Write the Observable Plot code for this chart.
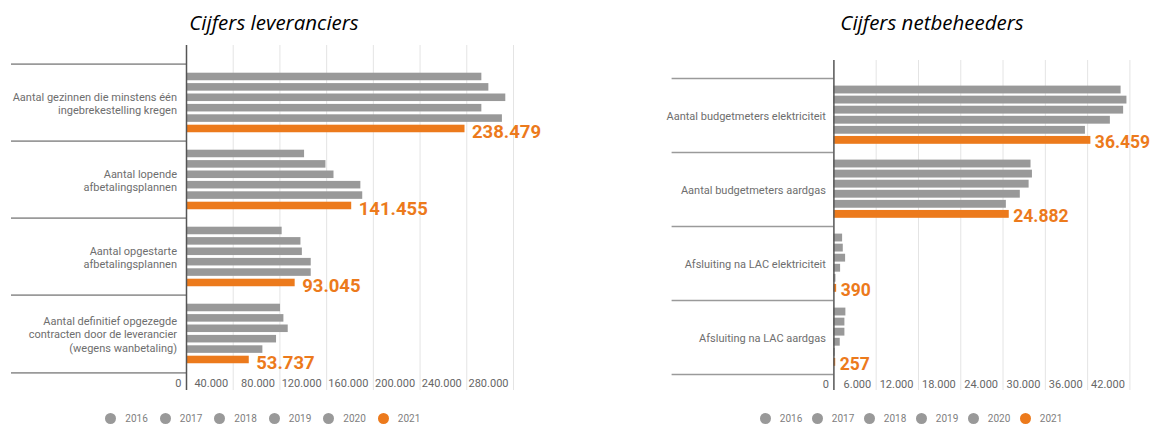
<!DOCTYPE html>
<html><head><meta charset="utf-8">
<script src="https://cdn.jsdelivr.net/npm/d3@7"></script>
<script src="https://cdn.jsdelivr.net/npm/@observablehq/plot@0.6"></script>
<style>
body{margin:0;background:#fff;font-family:Roboto,sans-serif;}
#wrap{position:relative;width:1152px;height:425px;overflow:hidden;background:#fff;}
.panel{position:absolute;top:0;width:576px;height:425px;}
.panel svg{position:absolute;left:0;top:0;overflow:visible;}
.title{position:absolute;top:8px;font-family:"Open Sans",sans-serif;font-style:italic;font-weight:400;font-size:20.5px;line-height:28px;color:#000;white-space:nowrap;transform:translateX(-50%);}
.legend{position:absolute;top:412px;height:12px;display:flex;align-items:center;font-family:Roboto,sans-serif;font-size:10px;color:#808080;}
.legend .item{display:flex;align-items:center;flex-shrink:0;}
.legend .dot{width:11px;height:11px;border-radius:50%;margin-right:9px;flex-shrink:0;}
</style>
</head><body>
<div id="wrap">
  <div class="panel" id="left"></div>
  <div class="panel" id="right" style="left:576px"></div>
</div>
<script>
// ---- shared ----
const years = ["2016", "2017", "2018", "2019", "2020", "2021"];
const yearColors = ["#999999", "#999999", "#999999", "#999999", "#999999", "#ec7a1c"];

// ---- left chart: Cijfers leveranciers ----
const levTitle = "Cijfers leveranciers";
const levCategories = [
  "Aantal gezinnen die minstens één\ningebrekestelling kregen",
  "Aantal lopende\nafbetalingsplannen",
  "Aantal opgestarte\nafbetalingsplannen",
  "Aantal definitief opgezegde\ncontracten door de leverancier\n(wegens wanbetaling)"
];
const lev2016 = [252900, 101100, 81900, 80500];
const lev2017 = [258900, 119400, 98000, 83400];
const lev2018 = [273400, 126300, 99200, 87100];
const lev2019 = [252900, 149300, 106800, 77100];
const lev2020 = [270500, 150900, 106800, 65400];
const lev2021 = [238479, 141455, 93045, 53737];
const levTicks = [0, 40000, 80000, 120000, 160000, 200000, 240000, 280000];

// ---- right chart: Cijfers netbeheeders ----
const netTitle = "Cijfers netbeheeders";
const netCategories = [
  "Aantal budgetmeters elektriciteit",
  "Aantal budgetmeters aardgas",
  "Afsluiting na LAC elektriciteit",
  "Afsluiting na LAC aardgas"
];
const net2016 = [40750, 27970, 1235, 1700];
const net2017 = [41580, 28170, 1330, 1560];
const net2018 = [41110, 27700, 1660, 1560];
const net2019 = [39230, 26450, 950, 900];
const net2020 = [35690, 24470, 290, 200];
const net2021 = [36459, 24882, 390, 257];
const netTicks = [0, 6000, 12000, 18000, 24000, 30000, 36000, 42000];

const nl = d3.formatLocale({decimal: ",", thousands: ".", grouping: [3], currency: ["", ""]});
const fmt = nl.format(",d");

function makeChart(el, cfg) {
  const W = 576, H = 400;
  const rows = [];
  cfg.categories.forEach((c, i) => cfg.series.forEach((s, j) => rows.push({cat: c, year: years[j], value: s[i]})));
  const bw = (H - cfg.mt - cfg.mb) / cfg.categories.length;
  const sepStyle = {stroke: "#9a9a9a", strokeWidth: 1.6,
    insetLeft: -(cfg.ml - cfg.sepLeft), insetRight: W - cfg.mr - cfg.ml};
  const marks = [
    Plot.ruleX(cfg.ticks.filter(t => t > 0), {stroke: "#e4e4e4", strokeWidth: 1, insetTop: -cfg.gridTop, insetBottom: -cfg.gridBottom}),
    Plot.ruleY(cfg.categories, {y: d => d, dy: -bw / 2, ...sepStyle}),
    Plot.ruleY(cfg.categories.slice(-1), {y: d => d, dy: bw / 2, ...sepStyle}),
  ];
  years.forEach((yr, j) => {
    const top = cfg.padTop + j * cfg.step;
    marks.push(Plot.barX(rows.filter(r => r.year === yr), {
      x: "value", y: "cat", fill: yearColors[j],
      insetTop: top, insetBottom: bw - top - cfg.barH
    }));
  });
  marks.push(
    Plot.ruleX([0], {stroke: "#555", strokeWidth: 1.5, insetTop: -cfg.gridTop, insetBottom: -cfg.gridBottom}),
    Plot.text(rows.filter(r => r.year === "2021"), {
      x: "value", y: "cat", text: d => fmt(d.value), dx: cfg.labelDx, dy: cfg.labelDy,
      textAnchor: "start", fill: "#ec7a1c", fontSize: cfg.labelSize, fontWeight: 700
    }),
    Plot.text(cfg.categories, {
      y: d => d, text: d => d, frameAnchor: "left", textAnchor: "end", dx: -cfg.catDx,
      fill: "#6e6e6e", fontSize: 11, lineHeight: 1.22
    }),
    Plot.axisX({ticks: cfg.ticks, tickFormat: fmt, tickSize: 0, tickPadding: cfg.tp,
      textAnchor: "end", dx: -5, fill: "#666", fontSize: 11, label: null})
  );
  const svg = Plot.plot({
    width: W, height: H,
    marginTop: cfg.mt, marginBottom: cfg.mb, marginLeft: cfg.ml, marginRight: cfg.mr,
    x: {domain: [0, cfg.max]},
    y: {domain: cfg.categories, padding: 0, axis: null},
    style: {fontFamily: "Roboto, sans-serif", background: "transparent"},
    marks
  });
  el.appendChild(svg);

  const t = document.createElement("div");
  t.className = "title";
  t.textContent = cfg.title;
  t.style.left = cfg.titleX + "px";
  el.appendChild(t);

  const lg = document.createElement("div");
  lg.className = "legend";
  lg.style.left = cfg.legendX + "px";
  years.forEach((yr, j) => {
    const it = document.createElement("div");
    it.className = "item";
    it.style.width = cfg.legendStep + "px";
    const dot = document.createElement("span");
    dot.className = "dot";
    dot.style.background = yearColors[j];
    const tx = document.createElement("span");
    tx.textContent = yr;
    it.appendChild(dot); it.appendChild(tx);
    lg.appendChild(it);
  });
  el.appendChild(lg);
}

makeChart(document.getElementById("left"), {
  title: levTitle, titleX: 274,
  categories: levCategories,
  series: [lev2016, lev2017, lev2018, lev2019, lev2020, lev2021],
  ticks: levTicks, max: 280000,
  mt: 62, mb: 27, ml: 186, mr: 63,
  gridTop: 17, gridBottom: 17, sepLeft: 11,
  padTop: 8.7, step: 10.4, barH: 8.3,
  labelDx: 7, labelDy: 29.5, labelSize: 18.5, catDx: 9.5, tp: 6,
  legendX: 105.3, legendStep: 54.5
});

makeChart(document.getElementById("right"), {
  title: netTitle, titleX: 356,
  categories: netCategories,
  series: [net2016, net2017, net2018, net2019, net2020, net2021],
  ticks: netTicks, max: 42000,
  mt: 77.7, mb: 25.7, ml: 257.4, mr: 22.6,
  gridTop: 17.7, gridBottom: 15.7, sepLeft: 95.6,
  padTop: 7.6, step: 10.07, barH: 8,
  labelDx: 4, labelDy: 26.7, labelSize: 17.5, catDx: 8, tp: 5,
  legendX: 183.8, legendStep: 52
});
</script>
</body></html>
